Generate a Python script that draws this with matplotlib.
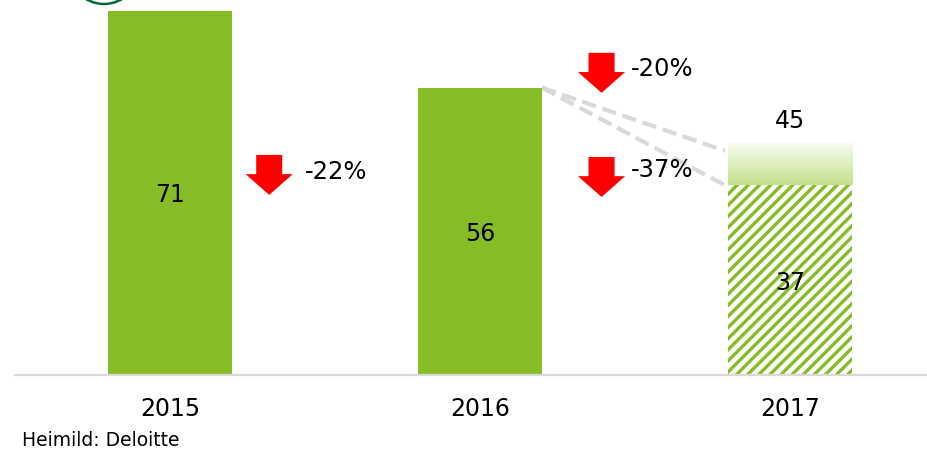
import numpy as np
import matplotlib
matplotlib.use("Agg")
import matplotlib.pyplot as plt
from matplotlib.patches import Polygon, Circle
from matplotlib.colors import LinearSegmentedColormap

years = ["2015", "2016", "2017"]
values = [71, 56, 37]
forecast_high = 45
changes = ["-22%", "-20%", "-37%"]
source = "Heimild: Deloitte"

green = "#86bc25"
dark_green = "#046a38"
grey = "#d9d9d9"

plt.rcParams["font.family"] = ["DejaVu Sans"]
plt.rcParams["hatch.linewidth"] = 2.4

fig = plt.figure(figsize=(9.28, 4.54), dpi=100)
ax = fig.add_axes([15 / 928, 79 / 454, 913 / 928, 375 / 454])
x = np.arange(len(years))
w = 0.4

# solid bars for 2015 and 2016, hatched bar for 2017
ax.bar(x[:2], values[:2], width=w, color=green, linewidth=0)
ax.bar(x[2], values[2], width=w, color="white", edgecolor=green,
       hatch="///", linewidth=0)

# gradient band from 37 up to 45
cmap = LinearSegmentedColormap.from_list("fade", ["#c3e28a", "#f7fbef"])
grad = np.linspace(0, 1, 100).reshape(-1, 1)
ax.imshow(grad, cmap=cmap, origin="lower", aspect="auto",
          extent=[x[2] - w / 2, x[2] + w / 2, values[2], forecast_high], zorder=1)

# value labels
for xi, v in zip(x, values):
    ax.text(xi, v / 2 - 0.5, str(v), ha="center", va="center", fontsize=17)
ax.text(x[2], forecast_high + 4.5, str(forecast_high), ha="center", va="center", fontsize=17)

# dashed lines from 2016 to 2017
for end in [forecast_high - 1.3, values[2]]:
    ax.plot([x[1] + w / 2, x[2] - w / 2 - 0.01], [values[1], end], color=grey,
            lw=3, ls=(0, (3.5, 1.6)), zorder=0)


def down_arrow(xc, top, tip):
    head = top - (top - tip) * 0.48
    pts = [(xc - 0.042, top), (xc + 0.042, top), (xc + 0.042, head),
           (xc + 0.076, head), (xc, tip), (xc - 0.076, head), (xc - 0.042, head)]
    ax.add_patch(Polygon(pts, closed=True, color="#ff0000", lw=0, zorder=3))


arrows = [(0.32, 42.9, 35.1), (1.392, 62.8, 55.0), (1.392, 42.5, 34.7)]
label_pos = [(0.435, 39.6), (1.487, 59.6), (1.487, 39.9)]
for (xc, top, tip), (tx, ty), lab in zip(arrows, label_pos, changes):
    down_arrow(xc, top, tip)
    ax.text(tx, ty, lab, ha="left", va="center", fontsize=17.5)

ax.set_xlim(-0.5, 2.445)
ax.set_ylim(0, 73.1)
ax.set_xticks(x)
ax.set_xticklabels(years, fontsize=17)
ax.tick_params(axis="x", length=0, pad=16)
ax.set_yticks([])
for s in ["top", "right", "left"]:
    ax.spines[s].set_visible(False)
ax.spines["bottom"].set_color(grey)
ax.spines["bottom"].set_linewidth(1.6)

# partial logo circle at the top edge
fig.patches.append(Circle((104, 454 + 31), 35, transform=None, fill=False,
                          edgecolor=dark_green, lw=1.8))

fig.text(22 / 928, 1 - 441 / 454, source, ha="left", va="center", fontsize=13.5)

fig.savefig("out.png", dpi=100)
